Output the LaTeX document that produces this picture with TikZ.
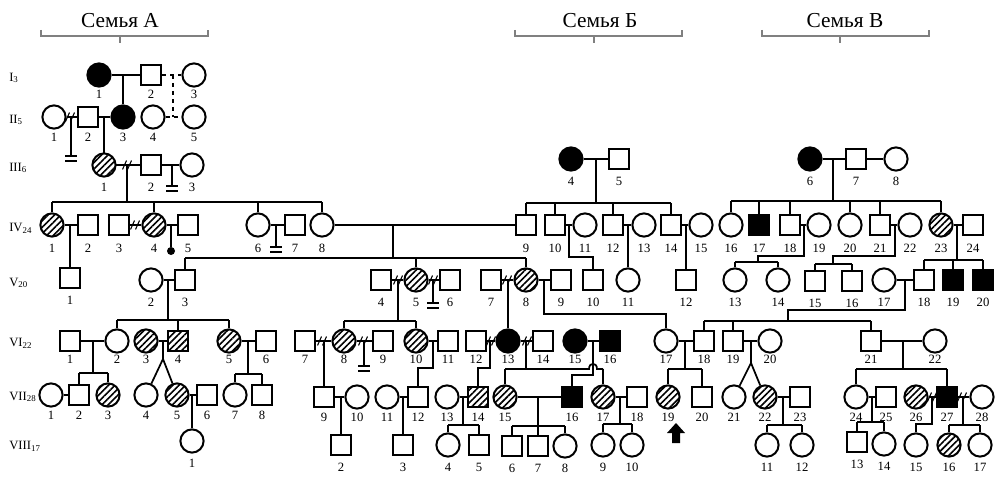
\documentclass[tikz,border=0pt]{standalone}
\usepackage{fontspec}
\setmainfont{Liberation Serif}
\usetikzlibrary{patterns.meta}
\def\lo{20}
\newcommand\ind[5]{\node[#4] (#1) at (#2,#3) {}; \node[num] (#1n) at (#2,#3+\lo) {#5};}
\newcommand\dv[2]{\draw[sl] (#1-4.5,#2+4.5) -- (#1-0.5,#2-4.5) (#1+0.5,#2+4.5) -- (#1+4.5,#2-4.5);}
\newcommand\bars[2]{\draw[ln] (#1-6,#2) -- (#1+6,#2) (#1-6,#2+5) -- (#1+6,#2+5);}
\begin{document}
\begin{tikzpicture}[x=0.75pt,y=-0.75pt,
 male/.style={draw,rectangle,minimum size=15.6pt,inner sep=0pt,line width=1.5pt},
 fem/.style={draw,circle,minimum size=17.4pt,inner sep=0pt,line width=1.5pt},
 aff/.style={fill=black},
 car/.style={pattern={Lines[angle=45,distance=3.4pt,line width=1.2pt]}},
 num/.style={font=\fontsize{9.5}{10}\selectfont,inner sep=0pt},
 gen/.style={font=\fontsize{9.5}{10}\selectfont,anchor=west,inner sep=0pt},
 ln/.style={line width=1.3pt},
 sl/.style={line width=0.8pt},
 brk/.style={draw=gray,line width=0.8pt},
 fam/.style={font=\fontsize{16}{18}\selectfont,inner sep=0pt}]
\useasboundingbox (0,0) rectangle (1003,481);

% family headers
\node[fam] (fA) at (120,21) {Семья А};
\draw[brk] (41,30) -- (41,36) -- (208,36) -- (208,30); \draw[brk] (120,36) -- (120,43);
\node[fam] (fB) at (600,21) {Семья Б};
\draw[brk] (515,30) -- (515,36) -- (682,36) -- (682,30); \draw[brk] (594,36) -- (594,43);
\node[fam] (fC) at (845,21) {Семья В};
\draw[brk] (762,30) -- (762,36) -- (929,36) -- (929,30); \draw[brk] (840,36) -- (840,43);

% generation labels
\node[gen] (gI) at (9,78) {I\textsubscript{3}};
\node[gen] (gII) at (9,120) {II\textsubscript{5}};
\node[gen] (gIII) at (9,168) {III\textsubscript{6}};
\node[gen] (gIV) at (9,228) {IV\textsubscript{24}};
\node[gen] (gV) at (9,283) {V\textsubscript{20}};
\node[gen] (gVI) at (9,343) {VI\textsubscript{22}};
\node[gen] (gVII) at (9,397) {VII\textsubscript{28}};
\node[gen] (gVIII) at (9,446) {VIII\textsubscript{17}};

% ---------- individuals ----------
\def\lo{19}
\ind{I1}{99}{75}{fem,aff}{1}
\ind{I2}{151}{75}{male}{2}
\ind{I3}{194}{75}{fem}{3}
\def\lo{20}
\ind{II1}{54}{117}{fem}{1}
\ind{II2}{88}{117}{male}{2}
\ind{II3}{123}{117}{fem,aff}{3}
\ind{II4}{153}{117}{fem}{4}
\ind{II5}{194}{117}{fem}{5}
\def\lo{22}
\ind{III1}{104}{165}{fem,car}{1}
\ind{III2}{151}{165}{male}{2}
\ind{III3}{192}{165}{fem}{3}
\ind{III4}{571}{159}{fem,aff}{4}
\ind{III5}{619}{159}{male}{5}
\ind{III6}{810}{159}{fem,aff}{6}
\ind{III7}{856}{159}{male}{7}
\ind{III8}{896}{159}{fem}{8}
\def\lo{23}
\ind{IV1}{52}{225}{fem,car}{1}
\ind{IV2}{88}{225}{male}{2}
\ind{IV3}{119}{225}{male}{3}
\ind{IV4}{154}{225}{fem,car}{4}
\ind{IV5}{188}{225}{male}{5}
\ind{IV6}{258}{225}{fem}{6}
\ind{IV7}{295}{225}{male}{7}
\ind{IV8}{322}{225}{fem}{8}
\ind{IV9}{526}{225}{male}{9}
\ind{IV10}{555}{225}{male}{10}
\ind{IV11}{585}{225}{fem}{11}
\ind{IV12}{613}{225}{male}{12}
\ind{IV13}{644}{225}{fem}{13}
\ind{IV14}{671}{225}{male}{14}
\ind{IV15}{701}{225}{fem}{15}
\ind{IV16}{731}{225}{fem}{16}
\ind{IV17}{759}{225}{male,aff}{17}
\ind{IV18}{790}{225}{male}{18}
\ind{IV19}{819}{225}{fem}{19}
\ind{IV20}{850}{225}{fem}{20}
\ind{IV21}{880}{225}{male}{21}
\ind{IV22}{910}{225}{fem}{22}
\ind{IV23}{941}{225}{fem,car}{23}
\ind{IV24}{973}{225}{male}{24}
\node[circle,fill=black,inner sep=0pt,minimum size=6pt] (ab) at (171,251) {};
\def\lo{22}
\ind{V1}{70}{278}{male}{1}
\ind{V2}{151}{280}{fem}{2}
\ind{V3}{185}{280}{male}{3}
\ind{V4}{381}{280}{male}{4}
\ind{V5}{416}{280}{fem,car}{5}
\ind{V6}{450}{280}{male}{6}
\ind{V7}{491}{280}{male}{7}
\ind{V8}{526}{280}{fem,car}{8}
\ind{V9}{561}{280}{male}{9}
\ind{V10}{593}{280}{male}{10}
\ind{V11}{628}{280}{fem}{11}
\ind{V12}{686}{280}{male}{12}
\ind{V13}{735}{280}{fem}{13}
\ind{V14}{778}{280}{fem}{14}
\ind{V15}{815}{281}{male}{15}
\ind{V16}{852}{281}{male}{16}
\ind{V17}{884}{280}{fem}{17}
\ind{V18}{924}{280}{male}{18}
\ind{V19}{953}{280}{male,aff}{19}
\ind{V20}{983}{280}{male,aff}{20}
\def\lo{18}
\ind{VI1}{70}{341}{male}{1}
\ind{VI2}{117}{341}{fem}{2}
\ind{VI3}{146}{341}{fem,car}{3}
\ind{VI4}{178}{341}{male,car}{4}
\ind{VI5}{229}{341}{fem,car}{5}
\ind{VI6}{266}{341}{male}{6}
\ind{VI7}{305}{341}{male}{7}
\ind{VI8}{344}{341}{fem,car}{8}
\ind{VI9}{383}{341}{male}{9}
\ind{VI10}{416}{341}{fem,car}{10}
\ind{VI11}{448}{341}{male}{11}
\ind{VI12}{476}{341}{male}{12}
\ind{VI13}{508}{341}{fem,aff}{13}
\ind{VI14}{543}{341}{male}{14}
\ind{VI15}{575}{341}{fem,aff}{15}
\ind{VI16}{610}{341}{male,aff}{16}
\ind{VI17}{666}{341}{fem}{17}
\ind{VI18}{704}{341}{male}{18}
\ind{VI19}{733}{341}{male}{19}
\ind{VI20}{770}{341}{fem}{20}
\ind{VI21}{871}{341}{male}{21}
\ind{VI22}{935}{341}{fem}{22}
\def\lo{20}
\ind{VII1}{51}{395}{fem}{1}
\ind{VII2}{79}{395}{male}{2}
\ind{VII3}{108}{395}{fem,car}{3}
\ind{VII4}{146}{395}{fem}{4}
\ind{VII5}{177}{395}{fem,car}{5}
\ind{VII6}{207}{395}{male}{6}
\ind{VII7}{235}{395}{fem}{7}
\ind{VII8}{262}{395}{male}{8}
\ind{VII9}{324}{397}{male}{9}
\ind{VII10}{357}{397}{fem}{10}
\ind{VII11}{387}{397}{fem}{11}
\ind{VII12}{418}{397}{male}{12}
\ind{VII13}{447}{397}{fem}{13}
\ind{VII14}{478}{397}{male,car}{14}
\ind{VII15}{505}{397}{fem,car}{15}
\ind{VII16}{572}{397}{male,aff}{16}
\ind{VII17}{603}{397}{fem,car}{17}
\ind{VII18}{637}{397}{male}{18}
\ind{VII19}{668}{397}{fem,car}{19}
\ind{VII20}{702}{397}{male}{20}
\ind{VII21}{734}{397}{fem}{21}
\ind{VII22}{765}{397}{fem,car}{22}
\ind{VII23}{800}{397}{male}{23}
\ind{VII24}{856}{397}{fem}{24}
\ind{VII25}{886}{397}{male}{25}
\ind{VII26}{916}{397}{fem,car}{26}
\ind{VII27}{947}{397}{male,aff}{27}
\ind{VII28}{982}{397}{fem}{28}
\def\lo{22}
\ind{VIII1}{192}{441}{fem}{1}
\ind{VIII2}{341}{445}{male}{2}
\ind{VIII3}{403}{445}{male}{3}
\ind{VIII4}{448}{445}{fem}{4}
\ind{VIII5}{479}{445}{male}{5}
\ind{VIII6}{512}{446}{male}{6}
\ind{VIII7}{538}{446}{male}{7}
\ind{VIII8}{565}{446}{fem}{8}
\ind{VIII9}{603}{445}{fem}{9}
\ind{VIII10}{632}{445}{fem}{10}
\ind{VIII11}{767}{445}{fem}{11}
\ind{VIII12}{802}{445}{fem}{12}
\ind{VIII13}{857}{442}{male}{13}
\ind{VIII14}{884}{444}{fem}{14}
\ind{VIII15}{916}{445}{fem}{15}
\ind{VIII16}{949}{445}{fem,car}{16}
\ind{VIII17}{980}{445}{fem}{17}

% proband arrow
\fill (676,423) -- (685,433) -- (680,433) -- (680,443) -- (672,443) -- (672,433) -- (667,433) -- cycle;

% ---------- connections ----------
% I - II
\draw[ln] (I1) -- (I2);
\coordinate (dI12) at (123,75); \draw[ln] (dI12) -- (II3);
\draw[ln,dashed] (I2) -- (I3);
\coordinate (dI23) at (173,75); \coordinate (dII45) at (173,117);
\draw[ln,dashed] (dI23) -- (dII45);
\draw[ln,dashed] (II4) -- (II5);
\draw[ln] (II1) -- (II2); \dv{70}{117}
\coordinate (dII12) at (71,117); \coordinate (bII12) at (71,156);
\draw[ln] (dII12) -- (bII12); \bars{71}{156}
\draw[ln] (II2) -- (II3);
\coordinate (dII23) at (104,117); \draw[ln] (dII23) -- (III1);
% III - IV family A
\draw[ln] (III1) -- (III2); \dv{127}{165}
\coordinate (dIII12) at (127,165); \coordinate (sIV) at (127,202);
\draw[ln] (dIII12) -- (sIV);
\draw[ln] (IV1 |- sIV) -- (IV8 |- sIV);
\foreach \k in {IV1,IV4,IV6,IV8} \draw[ln] (\k |- sIV) -- (\k);
\draw[ln] (III2) -- (III3);
\coordinate (dIII23) at (172,165); \coordinate (bIII23) at (172,186);
\draw[ln] (dIII23) -- (bIII23); \bars{172}{186}
% IV family A
\draw[ln] (IV1) -- (IV2);
\coordinate (dIV12) at (70,225); \draw[ln] (dIV12) -- (V1);
\draw[ln] (IV3) -- (IV4); \dv{135}{225}
\draw[ln] (IV4) -- (IV5);
\coordinate (dIV45) at (171,225); \draw[ln] (dIV45) -- (ab);
\draw[ln] (IV6) -- (IV7);
\coordinate (dIV67) at (276,225); \coordinate (bIV67) at (276,247);
\draw[ln] (dIV67) -- (bIV67); \bars{276}{247}
\draw[ln] (IV8) -- (IV9);
\coordinate (dIV89) at (393,225); \coordinate (sV) at (393,258);
\draw[ln] (dIV89) -- (sV);
\draw[ln] (V3 |- sV) -- (V8 |- sV);
\foreach \k in {V3,V5,V8} \draw[ln] (\k |- sV) -- (\k);
% family B
\draw[ln] (III4) -- (III5);
\coordinate (dIII45) at (596,159); \coordinate (sIVb) at (596,203);
\draw[ln] (dIII45) -- (sIVb);
\draw[ln] (IV9 |- sIVb) -- (IV14 |- sIVb);
\foreach \k in {IV9,IV10,IV12,IV14} \draw[ln] (\k |- sIVb) -- (\k);
\draw[ln] (IV10) -- (IV11);
\coordinate (dIV1011) at (569,225); \coordinate (kIV1011) at (569,257);
\draw[ln] (dIV1011) -- (kIV1011) -- (kIV1011 -| V10) -- (V10);
\draw[ln] (IV12) -- (IV13);
\coordinate (dIV1213) at (628,225); \draw[ln] (dIV1213) -- (V11);
\draw[ln] (IV14) -- (IV15);
\coordinate (dIV1415) at (686,225); \draw[ln] (dIV1415) -- (V12);
% family C
\draw[ln] (III6) -- (III7);
\draw[ln] (III7) -- (III8);
\coordinate (dIII67) at (833,159); \coordinate (sIVc) at (833,201);
\draw[ln] (dIII67) -- (sIVc);
\draw[ln] (IV16 |- sIVc) -- (IV23 |- sIVc);
\foreach \k in {IV16,IV17,IV18,IV20,IV21,IV23} \draw[ln] (\k |- sIVc) -- (\k);
\draw[ln] (IV18) -- (IV19);
\coordinate (dIV1819) at (804,225); \coordinate (kIV1819) at (804,256); \coordinate (sV1314) at (758,262);
\draw[ln] (dIV1819) -- (kIV1819) -- (kIV1819 -| sV1314) -- (sV1314);
\draw[ln] (V13 |- sV1314) -- (V14 |- sV1314);
\foreach \k in {V13,V14} \draw[ln] (\k |- sV1314) -- (\k);
\draw[ln] (IV21) -- (IV22);
\coordinate (dIV2122) at (895,225); \coordinate (kIV2122) at (895,256); \coordinate (sV1516) at (833,264);
\draw[ln] (dIV2122) -- (kIV2122) -- (kIV2122 -| sV1516) -- (sV1516);
\draw[ln] (V15 |- sV1516) -- (V16 |- sV1516);
\foreach \k in {V15,V16} \draw[ln] (\k |- sV1516) -- (\k);
\draw[ln] (IV23) -- (IV24);
\coordinate (dIV2324) at (957,225); \coordinate (sV1820) at (957,260);
\draw[ln] (dIV2324) -- (sV1820);
\draw[ln] (V18 |- sV1820) -- (V20 |- sV1820);
\foreach \k in {V18,V19,V20} \draw[ln] (\k |- sV1820) -- (\k);
\draw[ln] (V17) -- (V18);
\coordinate (dV1718) at (905,280); \coordinate (kV1718) at (905,310); \coordinate (sVIc) at (788,321);
\draw[ln] (dV1718) -- (kV1718) -- (kV1718 -| sVIc) -- (sVIc);
\draw[ln] (VI18 |- sVIc) -- (VI21 |- sVIc);
\foreach \k in {VI18,VI19,VI21} \draw[ln] (\k |- sVIc) -- (\k);
% V family A
\draw[ln] (V2) -- (V3);
\coordinate (dV23) at (168,280); \coordinate (sVIa) at (168,320);
\draw[ln] (dV23) -- (sVIa);
\draw[ln] (VI2 |- sVIa) -- (VI5 |- sVIa);
\foreach \k in {VI2,VI4,VI5} \draw[ln] (\k |- sVIa) -- (\k);
\draw[ln] (V4) -- (V5); \dv{398}{280}
\coordinate (dV45) at (398,280); \coordinate (sVIb) at (398,321);
\draw[ln] (dV45) -- (sVIb);
\draw[ln] (VI8 |- sVIb) -- (VI10 |- sVIb);
\foreach \k in {VI8,VI10} \draw[ln] (\k |- sVIb) -- (\k);
\draw[ln] (V5) -- (V6); \dv{433}{280}
\coordinate (dV56) at (433,280); \coordinate (bV56) at (433,303);
\draw[ln] (dV56) -- (bV56); \bars{433}{303}
\draw[ln] (V7) -- (V8); \dv{507}{280}
\coordinate (dV78) at (508,280); \draw[ln] (dV78) -- (VI13);
\draw[ln] (V8) -- (V9);
\coordinate (dV89) at (544,280); \coordinate (kV89) at (544,314);
\draw[ln] (dV89) -- (kV89) -- (kV89 -| VI17) -- (VI17);
% VI
\draw[ln] (VI1) -- (VI2);
\coordinate (dVI12) at (93,341); \coordinate (sVIIa) at (93,373);
\draw[ln] (dVI12) -- (sVIIa);
\draw[ln] (VII2 |- sVIIa) -- (VII3 |- sVIIa);
\foreach \k in {VII2,VII3} \draw[ln] (\k |- sVIIa) -- (\k);
\draw[ln] (VI3) -- (VI4);
\coordinate (dVI34) at (163,341); \coordinate (tVI34) at (163,359);
\draw[ln] (dVI34) -- (tVI34); \draw[ln] (tVI34) -- (VII4); \draw[ln] (tVI34) -- (VII5);
\draw[ln] (VI5) -- (VI6);
\coordinate (dVI56) at (248,341); \coordinate (sVIIb) at (248,374);
\draw[ln] (dVI56) -- (sVIIb);
\draw[ln] (VII7 |- sVIIb) -- (VII8 |- sVIIb);
\foreach \k in {VII7,VII8} \draw[ln] (\k |- sVIIb) -- (\k);
\draw[ln] (VI7) -- (VI8); \dv{322}{341}
\coordinate (dVI78) at (324,341); \draw[ln] (dVI78) -- (VII9);
\draw[ln] (VI8) -- (VI9); \dv{363}{341}
\coordinate (dVI89) at (364,341); \coordinate (bVI89) at (364,366);
\draw[ln] (dVI89) -- (bVI89); \bars{364}{366}
\draw[ln] (VI10) -- (VI11);
\coordinate (dVI1011) at (433,341); \coordinate (kVI1011) at (433,368);
\draw[ln] (dVI1011) -- (kVI1011) -- (kVI1011 -| VII12) -- (VII12);
\draw[ln] (VI12) -- (VI13); \dv{491}{341}
\coordinate (dVI1213) at (490,341); \coordinate (kVI1213) at (490,368);
\draw[ln] (dVI1213) -- (kVI1213) -- (kVI1213 -| VII14) -- (VII14);
\draw[ln] (VI13) -- (VI14); \dv{527}{341}
\coordinate (dVI1314) at (526,341); \coordinate (sVIId) at (526,369);
\draw[ln] (dVI1314) -- (sVIId);
\coordinate (hp1) at (589,369); \coordinate (hp2) at (597,369);
\draw[ln] (VII15 |- sVIId) -- (hp1) .. controls (589,362) and (597,362) .. (hp2) -- (VII17 |- sVIId);
\foreach \k in {VII15,VII17} \draw[ln] (\k |- sVIId) -- (\k);
\draw[ln] (VI15) -- (VI16);
\coordinate (dVI1516) at (593,341); \coordinate (kVI1516) at (593,375);
\draw[ln] (dVI1516) -- (kVI1516) -- (kVI1516 -| VII16) -- (VII16);
\draw[ln] (VI17) -- (VI18);
\coordinate (dVI1718) at (685,341); \coordinate (sVIIe) at (685,369);
\draw[ln] (dVI1718) -- (sVIIe);
\draw[ln] (VII19 |- sVIIe) -- (VII20 |- sVIIe);
\foreach \k in {VII19,VII20} \draw[ln] (\k |- sVIIe) -- (\k);
\draw[ln] (VI19) -- (VI20);
\coordinate (dVI1920) at (751,341); \coordinate (tVI1920) at (751,363);
\draw[ln] (dVI1920) -- (tVI1920); \draw[ln] (tVI1920) -- (VII21); \draw[ln] (tVI1920) -- (VII22);
\draw[ln] (VI21) -- (VI22);
\coordinate (dVI2122) at (903,341); \coordinate (sVIIf) at (903,369);
\draw[ln] (dVI2122) -- (sVIIf);
\draw[ln] (VII24 |- sVIIf) -- (VII27 |- sVIIf);
\foreach \k in {VII24,VII27} \draw[ln] (\k |- sVIIf) -- (\k);
% VII
\draw[ln] (VII1) -- (VII2);
\draw[ln] (VII5) -- (VII6);
\coordinate (dVII56) at (192,395); \draw[ln] (dVII56) -- (VIII1);
\draw[ln] (VII9) -- (VII10);
\coordinate (dVII910) at (341,397); \draw[ln] (dVII910) -- (VIII2);
\draw[ln] (VII11) -- (VII12);
\coordinate (dVII1112) at (403,397); \draw[ln] (dVII1112) -- (VIII3);
\draw[ln] (VII13) -- (VII14);
\coordinate (dVII1314) at (463,397); \coordinate (sVIIIa) at (463,425);
\draw[ln] (dVII1314) -- (sVIIIa);
\draw[ln] (VIII4 |- sVIIIa) -- (VIII5 |- sVIIIa);
\foreach \k in {VIII4,VIII5} \draw[ln] (\k |- sVIIIa) -- (\k);
\draw[ln] (VII15) -- (VII16);
\coordinate (dVII1516) at (538,397); \coordinate (sVIIIb) at (538,426);
\draw[ln] (dVII1516) -- (sVIIIb);
\draw[ln] (VIII6 |- sVIIIb) -- (VIII8 |- sVIIIb);
\foreach \k in {VIII6,VIII7,VIII8} \draw[ln] (\k |- sVIIIb) -- (\k);
\draw[ln] (VII17) -- (VII18);
\coordinate (dVII1718) at (620,397); \coordinate (sVIIIc) at (620,424);
\draw[ln] (dVII1718) -- (sVIIIc);
\draw[ln] (VIII9 |- sVIIIc) -- (VIII10 |- sVIIIc);
\foreach \k in {VIII9,VIII10} \draw[ln] (\k |- sVIIIc) -- (\k);
\draw[ln] (VII22) -- (VII23);
\coordinate (dVII2223) at (783,397); \coordinate (sVIIId) at (783,425);
\draw[ln] (dVII2223) -- (sVIIId);
\draw[ln] (VIII11 |- sVIIId) -- (VIII12 |- sVIIId);
\foreach \k in {VIII11,VIII12} \draw[ln] (\k |- sVIIId) -- (\k);
\draw[ln] (VII24) -- (VII25);
\coordinate (dVII2425) at (872,397); \coordinate (sVIIIe) at (872,422);
\draw[ln] (dVII2425) -- (sVIIIe);
\draw[ln] (VIII13 |- sVIIIe) -- (VIII14 |- sVIIIe);
\foreach \k in {VIII13,VIII14} \draw[ln] (\k |- sVIIIe) -- (\k);
\draw[ln] (VII26) -- (VII27); \dv{932}{397}
\coordinate (dVII2627) at (932,397); \coordinate (kVII2627) at (932,424);
\draw[ln] (dVII2627) -- (kVII2627) -- (kVII2627 -| VIII15) -- (VIII15);
\draw[ln] (VII27) -- (VII28); \dv{962}{397}
\coordinate (dVII2728) at (963,397); \coordinate (sVIIIf) at (963,425);
\draw[ln] (dVII2728) -- (sVIIIf);
\draw[ln] (VIII16 |- sVIIIf) -- (VIII17 |- sVIIIf);
\foreach \k in {VIII16,VIII17} \draw[ln] (\k |- sVIIIf) -- (\k);
\end{tikzpicture}
\end{document}
